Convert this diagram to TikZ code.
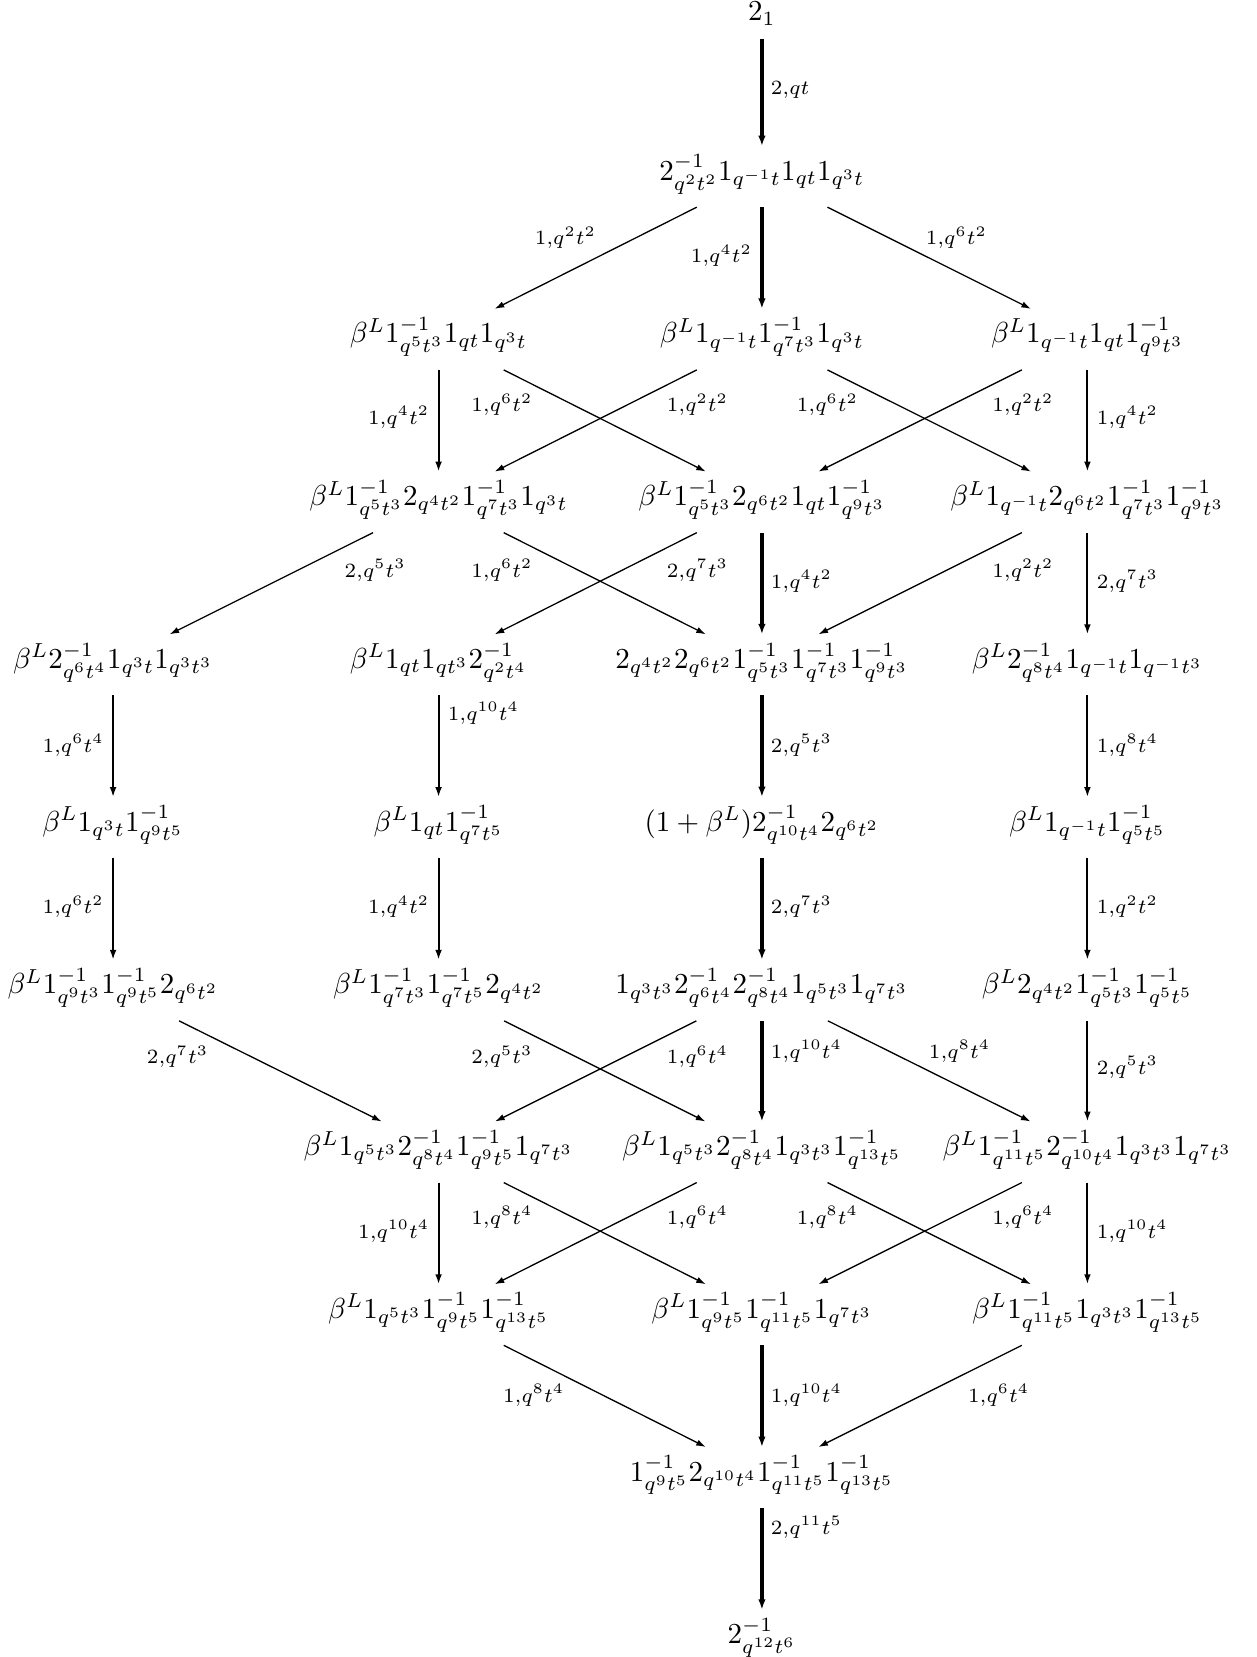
\documentclass[tikz,border=0pt]{standalone}
\usetikzlibrary{arrows.meta}
\newcommand\lb[1]{$\scriptstyle #1$}
\begin{document}
\begin{tikzpicture}[x=0.365pt,y=-0.365pt,
 obj/.style={inner xsep=3pt, inner ysep=3pt, outer sep=0pt},
 ar/.style={line width=0.45pt, shorten <=3.5pt, -{Latex[length=3.3pt,width=2.2pt]}},
 vr/.style={line width=0.65pt, shorten <=1.6pt, -{Latex[length=3.4pt,width=2.3pt]}},
 tk/.style={line width=1.1pt, shorten <=1.6pt, -{Latex[length=3.6pt,width=2.6pt]}},
 lab/.style={inner sep=0pt},
 lr/.style={lab, anchor=west},
 ll/.style={lab, anchor=east}]
\useasboundingbox (0,0) rectangle (1189,1568);
% columns A=107 B=415 C=721 D=1029
\node[obj] (r0) at (721,13) {$2_1$};
\node[obj] (r1) at (721,165) {$2^{-1}_{q^2t^2}1_{q^{-1}t}1_{qt}1_{q^3t}$};
\node[obj] (r2a) at (415,319) {$\beta^L 1^{-1}_{q^5t^3}1_{qt}1_{q^3t}$};
\node[obj] (r2b) at (721,319) {$\beta^L 1_{q^{-1}t}1^{-1}_{q^7t^3}1_{q^3t}$};
\node[obj] (r2c) at (1029,319) {$\beta^L 1_{q^{-1}t}1_{qt}1^{-1}_{q^9t^3}$};
\node[obj] (r3a) at (415,473) {$\beta^L 1^{-1}_{q^5t^3}2_{q^4t^2}1^{-1}_{q^7t^3}1_{q^3t}$};
\node[obj] (r3b) at (721,473) {$\beta^L 1^{-1}_{q^5t^3}2_{q^6t^2}1_{qt}1^{-1}_{q^9t^3}$};
\node[obj] (r3c) at (1029,473) {$\beta^L 1_{q^{-1}t}2_{q^6t^2}1^{-1}_{q^7t^3}1^{-1}_{q^9t^3}$};
\node[obj] (r4a) at (107,627) {$\beta^L 2^{-1}_{q^6t^4}1_{q^3t}1_{q^3t^3}$};
\node[obj] (r4b) at (415,627) {$\beta^L 1_{qt}1_{qt^3}2^{-1}_{q^2t^4}$};
\node[obj] (r4c) at (721,627) {$2_{q^4t^2}2_{q^6t^2}1^{-1}_{q^5t^3}1^{-1}_{q^7t^3}1^{-1}_{q^9t^3}$};
\node[obj] (r4d) at (1029,627) {$\beta^L 2^{-1}_{q^8t^4}1_{q^{-1}t}1_{q^{-1}t^3}$};
\node[obj] (r5a) at (107,781) {$\beta^L 1_{q^3t}1^{-1}_{q^9t^5}$};
\node[obj] (r5b) at (415,781) {$\beta^L 1_{qt}1^{-1}_{q^7t^5}$};
\node[obj] (r5c) at (721,781) {$(1+\beta^L)2^{-1}_{q^{10}t^4}2_{q^6t^2}$};
\node[obj] (r5d) at (1029,781) {$\beta^L 1_{q^{-1}t}1^{-1}_{q^5t^5}$};
\node[obj] (r6a) at (107,935) {$\beta^L 1^{-1}_{q^9t^3}1^{-1}_{q^9t^5}2_{q^6t^2}$};
\node[obj] (r6b) at (415,935) {$\beta^L 1^{-1}_{q^7t^3}1^{-1}_{q^7t^5}2_{q^4t^2}$};
\node[obj] (r6c) at (721,935) {$1_{q^3t^3}2^{-1}_{q^6t^4}2^{-1}_{q^8t^4}1_{q^5t^3}1_{q^7t^3}$};
\node[obj] (r6d) at (1029,935) {$\beta^L 2_{q^4t^2}1^{-1}_{q^5t^3}1^{-1}_{q^5t^5}$};
\node[obj] (r7a) at (415,1088) {$\beta^L 1_{q^5t^3}2^{-1}_{q^8t^4}1^{-1}_{q^9t^5}1_{q^7t^3}$};
\node[obj] (r7b) at (721,1088) {$\beta^L 1_{q^5t^3}2^{-1}_{q^8t^4}1_{q^3t^3}1^{-1}_{q^{13}t^5}$};
\node[obj] (r7c) at (1029,1088) {$\beta^L 1^{-1}_{q^{11}t^5}2^{-1}_{q^{10}t^4}1_{q^3t^3}1_{q^7t^3}$};
\node[obj] (r8a) at (415,1242) {$\beta^L 1_{q^5t^3}1^{-1}_{q^9t^5}1^{-1}_{q^{13}t^5}$};
\node[obj] (r8b) at (721,1242) {$\beta^L 1^{-1}_{q^9t^5}1^{-1}_{q^{11}t^5}1_{q^7t^3}$};
\node[obj] (r8c) at (1029,1242) {$\beta^L 1^{-1}_{q^{11}t^5}1_{q^3t^3}1^{-1}_{q^{13}t^5}$};
\node[obj] (r9) at (721,1396) {$1^{-1}_{q^9t^5}2_{q^{10}t^4}1^{-1}_{q^{11}t^5}1^{-1}_{q^{13}t^5}$};
\node[obj] (r10) at (721,1550) {$2^{-1}_{q^{12}t^6}$};
% row 0-1
\draw[tk] (r0) -- (r1) node[lr] at (728,85) {\lb{2,qt}};
% row 1-2
\draw[ar] (r1) -- (r2a) node[lab] at (535,225) {\lb{1,q^2t^2}};
\draw[tk] (r1) -- (r2b) node[ll] at (713,242) {\lb{1,q^4t^2}};
\draw[ar] (r1) -- (r2c) node[lab] at (905,225) {\lb{1,q^6t^2}};
% row 2-3
\draw[vr] (r2a) -- (r3a) node[ll] at (407,395) {\lb{1,q^4t^2}};
\draw[ar] (r2a) -- (r3b) node[lab] at (475,383) {\lb{1,q^6t^2}};
\draw[ar] (r2b) -- (r3a) node[lab] at (660,383) {\lb{1,q^2t^2}};
\draw[ar] (r2b) -- (r3c) node[lab] at (783,383) {\lb{1,q^6t^2}};
\draw[ar] (r2c) -- (r3b) node[lab] at (968,383) {\lb{1,q^2t^2}};
\draw[vr] (r2c) -- (r3c) node[lr] at (1037,395) {\lb{1,q^4t^2}};
% row 3-4
\draw[ar] (r3a) -- (r4a) node[lab] at (355,540) {\lb{2,q^5t^3}};
\draw[ar] (r3a) -- (r4c) node[lab] at (475,540) {\lb{1,q^6t^2}};
\draw[ar] (r3b) -- (r4b) node[lab] at (660,540) {\lb{2,q^7t^3}};
\draw[tk] (r3b) -- (r4c) node[lr] at (728,550) {\lb{1,q^4t^2}};
\draw[ar] (r3c) -- (r4c) node[lab] at (968,540) {\lb{1,q^2t^2}};
\draw[vr] (r3c) -- (r4d) node[lr] at (1037,550) {\lb{2,q^7t^3}};
% row 4-5
\draw[vr] (r4a) -- (r5a) node[ll] at (99,705) {\lb{1,q^6t^4}};
\draw[vr] (r4b) -- (r5b) node[lr] at (423,675) {\lb{1,q^{10}t^4}};
\draw[tk] (r4c) -- (r5c) node[lr] at (728,705) {\lb{2,q^5t^3}};
\draw[vr] (r4d) -- (r5d) node[lr] at (1037,705) {\lb{1,q^8t^4}};
% row 5-6
\draw[vr] (r5a) -- (r6a) node[ll] at (99,858) {\lb{1,q^6t^2}};
\draw[vr] (r5b) -- (r6b) node[ll] at (407,858) {\lb{1,q^4t^2}};
\draw[tk] (r5c) -- (r6c) node[lr] at (728,858) {\lb{2,q^7t^3}};
\draw[vr] (r5d) -- (r6d) node[lr] at (1037,858) {\lb{1,q^2t^2}};
% row 6-7
\draw[ar] (r6a) -- (r7a) node[lab] at (168,1000) {\lb{2,q^7t^3}};
\draw[ar] (r6b) -- (r7b) node[lab] at (475,1000) {\lb{2,q^5t^3}};
\draw[ar] (r6c) -- (r7a) node[lab] at (660,1000) {\lb{1,q^6t^4}};
\draw[tk] (r6c) -- (r7b) node[lr] at (728,995) {\lb{1,q^{10}t^4}};
\draw[ar] (r6c) -- (r7c) node[lab] at (908,995) {\lb{1,q^8t^4}};
\draw[vr] (r6d) -- (r7c) node[lr] at (1037,1010) {\lb{2,q^5t^3}};
% row 7-8
\draw[vr] (r7a) -- (r8a) node[ll] at (407,1165) {\lb{1,q^{10}t^4}};
\draw[ar] (r7a) -- (r8b) node[lab] at (475,1152) {\lb{1,q^8t^4}};
\draw[ar] (r7b) -- (r8a) node[lab] at (660,1152) {\lb{1,q^6t^4}};
\draw[ar] (r7b) -- (r8c) node[lab] at (783,1152) {\lb{1,q^8t^4}};
\draw[ar] (r7c) -- (r8b) node[lab] at (968,1152) {\lb{1,q^6t^4}};
\draw[vr] (r7c) -- (r8c) node[lr] at (1037,1165) {\lb{1,q^{10}t^4}};
% row 8-9
\draw[ar] (r8a) -- (r9) node[lab] at (505,1320) {\lb{1,q^8t^4}};
\draw[tk] (r8b) -- (r9) node[lr] at (728,1320) {\lb{1,q^{10}t^4}};
\draw[ar] (r8c) -- (r9) node[lab] at (945,1320) {\lb{1,q^6t^4}};
% row 9-10
\draw[tk] (r9) -- (r10) node[lr] at (728,1445) {\lb{2,q^{11}t^5}};
\end{tikzpicture}
\end{document}
